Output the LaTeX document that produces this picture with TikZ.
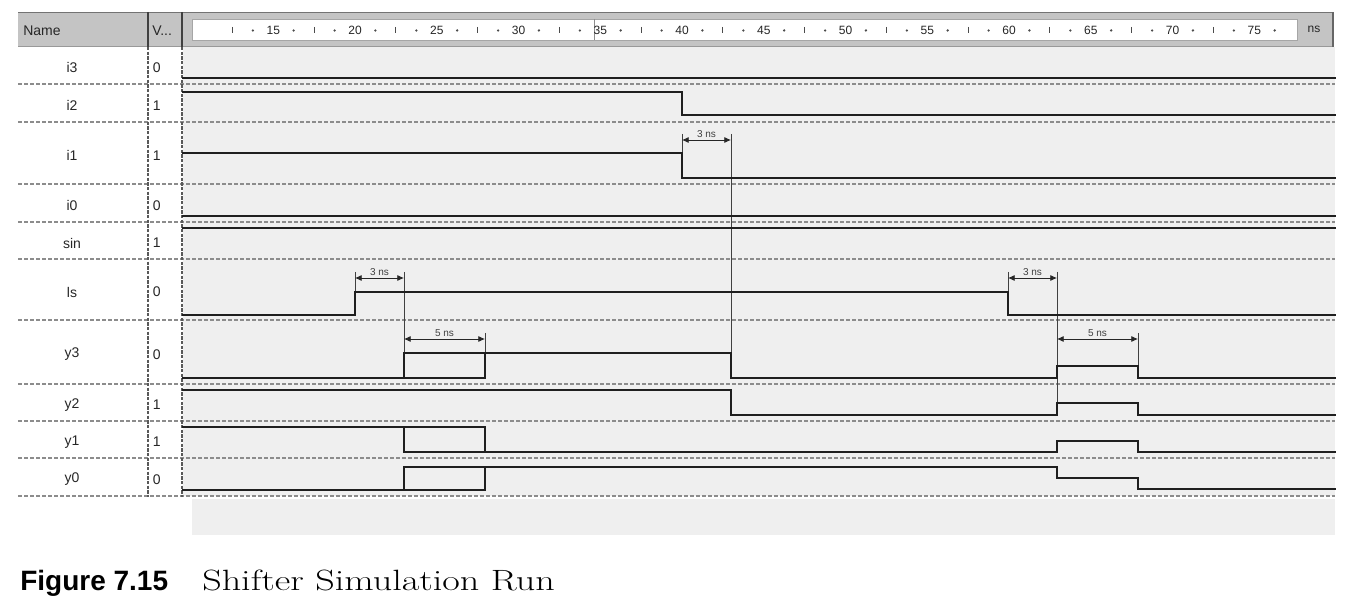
\documentclass[tikz,border=0pt]{standalone}
\usepackage{fontspec}
\newfontfamily\uifont{Liberation Sans}
\usetikzlibrary{arrows.meta}
\definecolor{wavebg}{HTML}{EFEFEF}
\definecolor{hdr}{HTML}{C4C4C4}
\begin{document}
\begin{tikzpicture}[x=0.75pt,y=-0.75pt,
  declare function={T(\t)=355+(\t-20)*16.35;},
  wave/.style={line width=2.2pt, line join=miter, line cap=rect, black!88},
  sep/.style={black!45, line width=0.8pt, dash pattern=on 3pt off 1.5pt},
  vsep/.style={black!65, line width=0.9pt, dash pattern=on 2.5pt off 1pt},
  guide/.style={line width=0.6pt, black!75},
  dim/.style={line width=0.6pt, black!85, {Latex[length=5pt,width=4.5pt]}-{Latex[length=5pt,width=4.5pt]}},
  dimlbl/.style={font=\uifont\fontsize{7.5pt}{8pt}\selectfont, text=black!75, inner sep=0pt},
  lbl/.style={font=\uifont\fontsize{10.5pt}{12pt}\selectfont, text=black!85, inner sep=0pt},
  rl/.style={font=\uifont\fontsize{9pt}{10pt}\selectfont, text=black!85, inner sep=0pt},
]
\useasboundingbox (0,0) rectangle (1345,605);

% ---------- header ----------
\fill[hdr] (18,12) rectangle (1333,47);
\draw[black!55, line width=0.8pt] (18,12.5) -- (1333,12.5);
\draw[black!40, line width=0.6pt] (18,46.5) -- (1333,46.5);
\draw[black!75, line width=1.5pt] (148,12) -- (148,47);
\draw[black!75, line width=1.5pt] (182,12) -- (182,47);
\draw[black!60, line width=1pt] (1333,12) -- (1333,50);
\fill[white] (192,19) rectangle (1297,40);
\draw[black!35, line width=0.5pt] (192,19) rectangle (1297,40);
\draw[black!45, line width=0.6pt] (594,19) -- (594,40);
\node[lbl, anchor=west] (hname) at (23,31) {Name};
\node[lbl, anchor=west] (hval) at (152,31) {V...};
\node[rl, anchor=center] (hns) at (1314,29) {ns};

% ruler labels and marks
\foreach \t in {15,20,...,75} \node[rl] (r\t) at ({T(\t)},30) {\t};
\foreach \k in {0,...,12} {
  \draw[black!70, line width=0.8pt] ({T(12.5+5*\k)},27) -- ({T(12.5+5*\k)},33);
  \fill[black!70] ({T(13.75+5*\k)},30.5) circle (1.3);
  \fill[black!70] ({T(11.25+5*\k)+81.75},30.5) circle (1.3);
}

% ---------- waveform area ----------
\fill[wavebg] (183,47) rectangle (1335,496);
\fill[wavebg] (192,499) rectangle (1335,535);

% row separators
\foreach \y in {84,122,184,222,259,320,384,421,458,496}
  \draw[sep] (18,\y) -- (1335,\y);
\draw[vsep] (148,47) -- (148,497);
\draw[vsep] (182,47) -- (182,497);

% names and values
\foreach \n/\c/\v in {i3/65.5/0, i2/103/1, i1/153/1, i0/203/0, sin/240.5/1,
                      ls/289.5/0, y3/352/0, y2/402.5/1, y1/439.5/1, y0/477/0} {
  \node[lbl] (n-\n) at (72,\c+2.5) {\n};
  \node[lbl, anchor=west] (v-\n) at (152.5,\c+2.5) {\v};
}

% guide lines
\draw[guide] (355,272) -- (355,292);
\draw[guide] (404,272) -- (404,353);
\draw[guide] (682,134) -- (682,153);
\draw[guide] (731,134) -- (731,353);
\draw[guide] (485,333) -- (485,353);
\draw[guide] (1008,272) -- (1008,292);
\draw[guide] (1057,272) -- (1057,403);
\draw[guide] (1138,333) -- (1138,366);

% waveforms
\draw[wave] (183,78) -- (1335,78);
\draw[wave] (183,92) -- (682,92) -- (682,115) -- (1335,115);
\draw[wave] (183,153) -- (682,153) -- (682,178) -- (1335,178);
\draw[wave] (183,216) -- (1335,216);
\draw[wave] (183,228) -- (1335,228);
\draw[wave] (183,315) -- (355,315) -- (355,292) -- (1008,292) -- (1008,315) -- (1335,315);
\draw[wave] (183,378) -- (485,378) -- (485,353);
\draw[wave] (404,378) -- (404,353) -- (731,353) -- (731,378) -- (1057,378) -- (1057,366) -- (1138,366) -- (1138,378) -- (1335,378);
\draw[wave] (183,390) -- (731,390) -- (731,415) -- (1057,415) -- (1057,403) -- (1138,403) -- (1138,415) -- (1335,415);
\draw[wave] (183,427) -- (485,427) -- (485,452) -- (1057,452) -- (1057,441) -- (1138,441) -- (1138,452) -- (1335,452);
\draw[wave] (404,427) -- (404,452) -- (485,452);
\draw[wave] (183,490) -- (485,490) -- (485,467) -- (1057,467) -- (1057,478) -- (1138,478) -- (1138,489) -- (1335,489);
\draw[wave] (404,490) -- (404,467) -- (485,467);

% dimension arrows
\coordinate (a1) at (682,140); \coordinate (b1) at (731,140);
\coordinate (a2) at (355,278); \coordinate (b2) at (404,278);
\coordinate (a3) at (404,339); \coordinate (b3) at (485,339);
\coordinate (a4) at (1008,278); \coordinate (b4) at (1057,278);
\coordinate (a5) at (1057,339); \coordinate (b5) at (1138,339);
\draw[dim] (a1) -- (b1) node[dimlbl, midway, above=1.5pt] {3 ns};
\draw[dim] (a2) -- (b2) node[dimlbl, midway, above=1.5pt] {3 ns};
\draw[dim] (a3) -- (b3) node[dimlbl, midway, above=1.5pt] {5 ns};
\draw[dim] (a4) -- (b4) node[dimlbl, midway, above=1.5pt] {3 ns};
\draw[dim] (a5) -- (b5) node[dimlbl, midway, above=1.5pt] {5 ns};

% caption
\node[anchor=base west, inner sep=0pt, font=\uifont\bfseries\fontsize{21pt}{24pt}\selectfont] (figno) at (20,590) {Figure 7.15};
\node[anchor=base west, inner sep=0pt, font=\fontsize{22pt}{24pt}\selectfont] (figtitle) at (202,590) {\scalebox{1.3}[1]{Shifter Simulation Run}};
\end{tikzpicture}
\end{document}
